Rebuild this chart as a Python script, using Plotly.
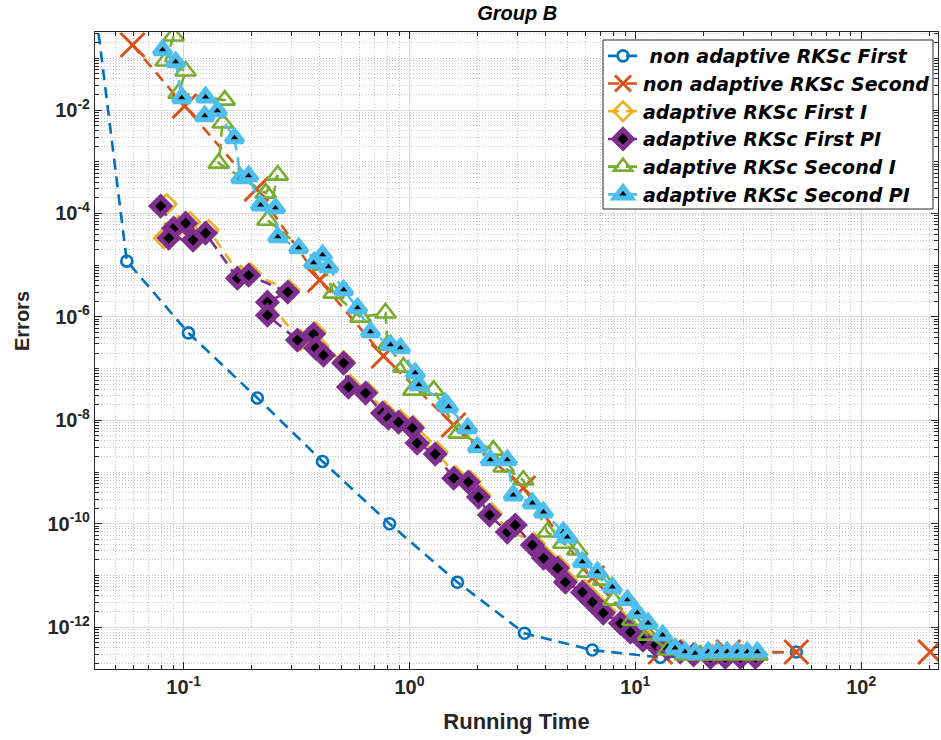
import plotly.graph_objects as go

# ---- data: running time (s) vs. error for each integrator ----
t_nonadapt_first = [0.028, 0.056, 0.105, 0.212, 0.412, 0.816, 1.63, 3.23, 6.45, 12.9, 25.8, 51.6]
e_nonadapt_first = [5e5, 1.2e-5, 4.9e-7, 2.7e-8, 1.6e-9, 1.0e-10, 7.4e-12, 7.6e-13, 3.6e-13, 2.6e-13, 3.1e-13, 3.3e-13]

t_nonadapt_second = [0.0594, 0.101, 0.210, 0.400, 0.767, 1.566, 3.19, 6.45, 12.9, 25.8, 51.6, None, 202]
e_nonadapt_second = [0.181, 0.0119, 2.96e-4, 5.15e-6, 1.75e-7, 8.1e-9, 4.9e-10, 8.9e-12, 3.3e-13, 3.3e-13, 3.3e-13, None, 3.3e-13]

t_adapt_first_i = [0.0841, 0.0816, 0.095, 0.107, 0.114, 0.129, 0.179, 0.198, 0.294, 0.235, 0.33, 0.384,
                   0.396, 0.511, 0.548, 0.652, 0.775, 0.912, 1.04, 1.12, 1.33, 1.60, 1.86, 2.06, 2.31,
                   2.77, 3.57, 4.0, 4.61, 5.0, 5.95, 6.59, 7.36, 8.75, 9.7, 11.1, 12.5, 14.1, 16.1,
                   18.4, 21.9, 25.5, 29.7, 34.7]
e_adapt_first_i = [1.52e-4, 3.34e-5, 5.7e-5, 6.8e-5, 3.34e-5, 4.78e-5, 6.2e-6, 7.0e-6, 3.30e-6, 1.93e-6,
                   3.56e-7, 5.08e-7, 2.72e-7, 1.40e-7, 4.8e-8, 3.51e-8, 1.51e-8, 1.01e-8, 7.7e-9, 3.96e-9,
                   2.43e-9, 8.3e-10, 6.7e-10, 3.57e-10, 1.60e-10, 7.5e-11, 4.2e-11, 2.36e-11, 1.51e-11,
                   8.1e-12, 5.2e-12, 3.33e-12, 2.04e-12, 1.31e-12, 8.7e-13, 6.1e-13, 4.9e-13, 4.3e-13,
                   3.6e-13, 3.1e-13, 2.9e-13, 2.9e-13, 2.9e-13, 2.9e-13]

t_adapt_first_pi = [0.0791, 0.0903, 0.102, 0.0859, 0.110, 0.125, 0.173, 0.194, 0.289, 0.235, 0.235,
                    0.319, 0.376, 0.384, 0.416, 0.511, 0.537, 0.639, 0.760, 0.807, 0.894, 1.03, 1.08,
                    1.30, 1.57, 1.82, 2.02, 2.26, 2.71, 2.94, 3.50, 3.92, 4.52, 4.90, 5.83, 6.45, 7.21,
                    8.59, 9.5, 10.8, 12.3, 13.9, 15.8, 18.1, 21.5, 25.0, 29.2, 34.0]
e_adapt_first_pi = [1.39e-4, 5.2e-5, 6.5e-5, 3.34e-5, 3.06e-5, 4.18e-5, 5.6e-6, 6.4e-6, 3.02e-6, 1.93e-6,
                    1.08e-6, 3.56e-7, 4.65e-7, 2.49e-7, 1.82e-7, 1.28e-7, 4.39e-8, 3.36e-8, 1.38e-8,
                    1.10e-8, 9.2e-9, 7.1e-9, 3.62e-9, 2.22e-9, 7.6e-10, 6.4e-10, 3.27e-10, 1.47e-10,
                    6.9e-11, 9.4e-11, 3.86e-11, 2.16e-11, 1.38e-11, 7.4e-12, 4.75e-12, 3.05e-12, 1.87e-12,
                    1.19e-12, 8.0e-13, 5.6e-13, 4.5e-13, 3.9e-13, 3.3e-13, 2.9e-13, 2.6e-13, 2.6e-13,
                    2.6e-13, 2.6e-13]

t_adapt_second_i = [0.0903, 0.0832, 0.102, 0.095, 0.152, 0.149, 0.143, 0.231, 0.261, 0.235, 0.416,
                    0.461, 0.607, 0.783, 0.80, 0.94, 1.04, 1.28, 1.65, 2.35, 2.61, 3.19, 4.08, 4.80,
                    5.53, 6.13, 7.21, 8.0, 9.7, 11.4, 13.9, 16.6, 19.4, 23.8, 29.2, 34.7]
e_adapt_second_i = [0.270, 0.0887, 0.0568, 0.0213, 0.0156, 0.00561, 9.4e-4, 2.48e-4, 5.53e-4, 7.4e-5,
                    1.0e-5, 2.88e-6, 9.9e-7, 1.19e-6, 2.85e-7, 1.07e-7, 3.84e-8, 3.84e-8, 5.65e-9,
                    2.65e-9, 1.25e-9, 7.0e-10, 6.9e-11, 4.2e-11, 3.1e-11, 1.16e-11, 8.1e-12, 3.33e-12,
                    1.36e-12, 7.0e-13, 3.6e-13, 2.9e-13, 2.9e-13, 2.9e-13, 2.9e-13, 2.9e-13]

t_adapt_second_pi = [0.0807, 0.0922, 0.098, 0.125, 0.124, 0.141, 0.168, 0.179, 0.194, 0.219, 0.255,
                     0.261, 0.323, 0.412, 0.376, 0.438, 0.511, 0.589, 0.672, 0.824, 0.912, 1.06, 1.10,
                     1.44, 1.49, 1.81, 2.0, 2.28, 2.71, 2.88, 3.50, 3.92, 4.80, 5.00, 5.83, 6.79, 7.91,
                     9.22, 10.2, 11.4, 13.2, 15.0, 16.6, 18.4, 21.0, 23.1, 25.5, 28.3, 31.3, 34.7]
e_adapt_second_pi = [0.145, 0.0847, 0.0171, 0.0178, 0.00766, 0.00957, 0.00287, 4.84e-4, 5.29e-4,
                     1.45e-4, 1.27e-4, 3.50e-5, 2.14e-5, 1.57e-5, 1.10e-5, 9.2e-6, 3.30e-6, 1.48e-6,
                     5.08e-7, 2.85e-7, 2.49e-7, 8.2e-8, 4.8e-8, 2.15e-8, 1.80e-8, 7.1e-9, 3.03e-9,
                     1.70e-9, 1.70e-9, 3.57e-10, 2.50e-10, 1.67e-10, 6.9e-11, 5.5e-11, 1.81e-11,
                     1.16e-11, 5.9e-12, 3.33e-12, 1.87e-12, 1.19e-12, 7.0e-13, 3.9e-13, 3.3e-13, 3.1e-13,
                     3.3e-13, 3.3e-13, 3.3e-13, 3.3e-13, 3.3e-13, 3.3e-13]

names = ["\u00a0non adaptive RKSc First", "non adaptive RKSc Second", "adaptive RKSc First I",
         "adaptive RKSc First PI", "adaptive RKSc Second I", "adaptive RKSc Second PI"]

# axis tick labels
x_tickvals = [0.1, 1, 10, 100]
x_ticktext = ["<b>10<sup>-1</sup></b>", "<b>10<sup>0</sup></b>", "<b>10<sup>1</sup></b>", "<b>10<sup>2</sup></b>"]
y_tickvals = [1e-12, 1e-10, 1e-8, 1e-6, 1e-4, 1e-2]
y_ticktext = ["<b>10<sup>-12</sup></b>", "<b>10<sup>-10</sup></b>", "<b>10<sup>-8</sup></b>",
              "<b>10<sup>-6</sup></b>", "<b>10<sup>-4</sup></b>", "<b>10<sup>-2</sup></b>"]

BLUE, ORANGE, YELLOW = "#0072BD", "#D95319", "#EDB120"
PURPLE, GREEN, CYAN = "#7E2F8E", "#77AC30", "#4DBEEE"
DASH = "11px,7px"

fig = go.Figure()

def add(x, y, name, color, marker):
    fig.add_trace(go.Scatter(
        x=x, y=y, name=name, mode="lines+markers", connectgaps=False,
        line=dict(color=color, width=2.6, dash=DASH), marker=marker))

add(t_nonadapt_first, e_nonadapt_first, names[0], BLUE,
    dict(symbol="circle-open", size=11, color=BLUE, line=dict(width=2.6, color=BLUE)))
add(t_nonadapt_second, e_nonadapt_second, names[1], ORANGE,
    dict(symbol="x-thin-open", size=24, color=ORANGE, line=dict(width=3, color=ORANGE)))
add(t_adapt_first_i, e_adapt_first_i, names[2], YELLOW,
    dict(symbol="diamond-open", size=15, color=YELLOW, line=dict(width=2.6, color=YELLOW)))
add(t_adapt_first_pi, e_adapt_first_pi, names[3], PURPLE,
    dict(symbol="diamond", size=14, color="black", line=dict(width=5, color=PURPLE)))
add(t_adapt_second_i, e_adapt_second_i, names[4], GREEN,
    dict(symbol="triangle-up-open", size=18, color=GREEN, line=dict(width=2.6, color=GREEN)))
add(t_adapt_second_pi, e_adapt_second_pi, names[5], CYAN,
    dict(symbol="triangle-up", size=15, color="black", line=dict(width=5, color=CYAN)))

FONT = "Arial, Liberation Sans, Helvetica, sans-serif"
LEGEND_FONT = "DejaVu Sans, Arial, sans-serif"
AX = "#262626"

# plot-area pixel geometry, used to place the legend frame and y label
L, R, T, B = 95, 3, 32, 71
PW, PH = 941 - L - R, 740 - T - B

def px_x(x):
    return (x - L) / PW

def px_y(y):
    return (740 - B - y) / PH

axis_common = dict(
    type="log", showline=True, linecolor=AX, linewidth=1.2, mirror="allticks",
    ticks="inside", ticklen=7, tickwidth=1, tickcolor=AX, tickmode="array",
    showgrid=True, gridcolor="#dcdcdc", gridwidth=1, zeroline=False,
    tickfont=dict(family=FONT, size=20, color=AX),
    minor=dict(ticks="inside", ticklen=4, tickcolor=AX, dtick="D1",
               showgrid=True, gridcolor="#c4c4c4", griddash="1px,2px", gridwidth=1),
)

fig.update_layout(
    width=941, height=740,
    margin=dict(l=L, r=R, t=T, b=B),
    plot_bgcolor="white", paper_bgcolor="white",
    title=dict(text="<b><i>Group B</i></b>", x=0.5497, xanchor="center",
               y=1 - 13 / 740, yanchor="middle", yref="container",
               font=dict(family=FONT, size=20, color="black")),
    xaxis=dict(axis_common, range=[-1.3925, 2.340],
               tickvals=x_tickvals, ticktext=x_ticktext,
               title=dict(text="<b>Running Time</b>", standoff=16,
                          font=dict(family=FONT, size=22, color=AX))),
    yaxis=dict(axis_common, range=[-12.81, -0.49],
               tickvals=y_tickvals, ticktext=y_ticktext),
    legend=dict(x=px_x(603), y=px_y(37), xanchor="left", yanchor="top",
                bgcolor="rgba(0,0,0,0)", borderwidth=0, itemwidth=30,
                font=dict(family=LEGEND_FONT, size=19, color="black", weight="bold", style="italic")),
    shapes=[dict(type="rect", xref="paper", yref="paper", layer="above",
                 x0=px_x(603), x1=px_x(933), y0=px_y(209), y1=px_y(40),
                 fillcolor="white", line=dict(color=AX, width=1))],
    annotations=[dict(text="<b>Errors</b>", textangle=-90,
                      x=px_x(22), y=px_y(321),
                      xref="paper", yref="paper", xanchor="center", yanchor="middle",
                      showarrow=False, font=dict(family=FONT, size=20, color=AX))],
    showlegend=True,
)

fig.write_html("out.html")
